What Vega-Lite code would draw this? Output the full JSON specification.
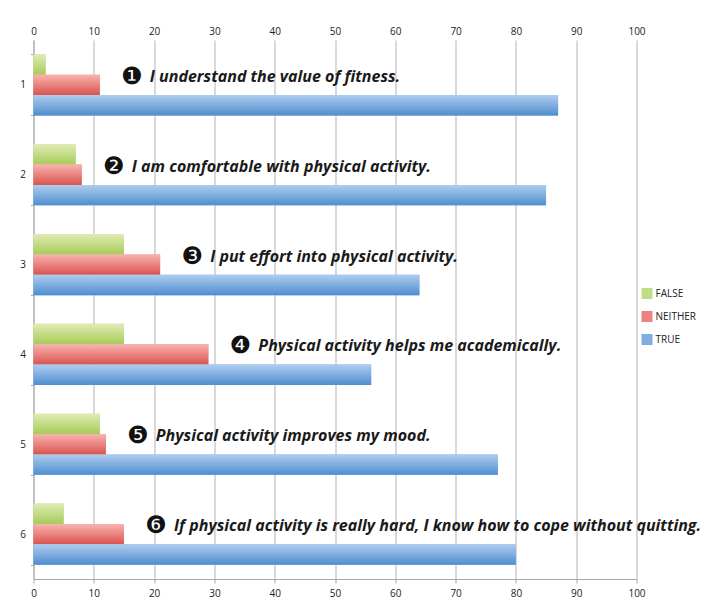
{
  "$schema": "https://vega.github.io/schema/vega-lite/v6.json",
  "width": 603,
  "height": 539,
  "autosize": "none",
  "padding": {"left": 33.5, "top": 40, "right": 74.5, "bottom": 25},
  "background": "white",
  "config": {
    "view": {"stroke": null},
    "font": "Open Sans",
    "axis": {"labelFontWeight": "normal"}
  },
  "data": {
    "values": [
      {"item": 1, "response": "FALSE", "percent": 2, "num": "❶", "statement": "I understand the value of fitness."},
      {"item": 1, "response": "NEITHER", "percent": 11, "num": "❶", "statement": "I understand the value of fitness."},
      {"item": 1, "response": "TRUE", "percent": 87, "num": "❶", "statement": "I understand the value of fitness."},
      {"item": 2, "response": "FALSE", "percent": 7, "num": "❷", "statement": "I am comfortable with physical activity."},
      {"item": 2, "response": "NEITHER", "percent": 8, "num": "❷", "statement": "I am comfortable with physical activity."},
      {"item": 2, "response": "TRUE", "percent": 85, "num": "❷", "statement": "I am comfortable with physical activity."},
      {"item": 3, "response": "FALSE", "percent": 15, "num": "❸", "statement": "I put effort into physical activity."},
      {"item": 3, "response": "NEITHER", "percent": 21, "num": "❸", "statement": "I put effort into physical activity."},
      {"item": 3, "response": "TRUE", "percent": 64, "num": "❸", "statement": "I put effort into physical activity."},
      {"item": 4, "response": "FALSE", "percent": 15, "num": "❹", "statement": "Physical activity helps me academically."},
      {"item": 4, "response": "NEITHER", "percent": 29, "num": "❹", "statement": "Physical activity helps me academically."},
      {"item": 4, "response": "TRUE", "percent": 56, "num": "❹", "statement": "Physical activity helps me academically."},
      {"item": 5, "response": "FALSE", "percent": 11, "num": "❺", "statement": "Physical activity improves my mood."},
      {"item": 5, "response": "NEITHER", "percent": 12, "num": "❺", "statement": "Physical activity improves my mood."},
      {"item": 5, "response": "TRUE", "percent": 77, "num": "❺", "statement": "Physical activity improves my mood."},
      {"item": 6, "response": "FALSE", "percent": 5, "num": "❻", "statement": "If physical activity is really hard, I know how to cope without quitting."},
      {"item": 6, "response": "NEITHER", "percent": 15, "num": "❻", "statement": "If physical activity is really hard, I know how to cope without quitting."},
      {"item": 6, "response": "TRUE", "percent": 80, "num": "❻", "statement": "If physical activity is really hard, I know how to cope without quitting."}
    ]
  },
  "encoding": {
    "y": {
      "field": "item",
      "type": "ordinal",
      "scale": {"paddingInner": 0.32, "paddingOuter": 0.16},
      "axis": {
        "title": null,
        "tickBand": "extent",
        "labelAngle": 0,
        "labelFontSize": 10,
        "labelFontWeight": "normal",
        "labelColor": "#222222",
        "labelPadding": 5,
        "tickSize": 3,
        "tickColor": "#a8a8a8",
        "domainColor": "#a8a8a8",
        "grid": false
      }
    },
    "x": {
      "field": "percent",
      "type": "quantitative",
      "scale": {"domain": [0, 100], "nice": false},
      "axis": null
    },
    "yOffset": {"field": "response", "type": "nominal", "sort": ["FALSE", "NEITHER", "TRUE"], "scale": {"domain": ["FALSE", "NEITHER", "TRUE"], "paddingInner": 0, "paddingOuter": 0}}
  },
  "layer": [
    {
      "mark": {"type": "bar", "orient": "horizontal"},
      "encoding": {
        "x": {
          "field": "percent",
          "type": "quantitative",
          "scale": {"domain": [0, 100], "nice": false},
          "axis": {
            "orient": "top",
            "title": null,
            "values": [0, 10, 20, 30, 40, 50, 60, 70, 80, 90, 100],
            "grid": true,
            "gridColor": "#b3b3b3",
            "gridOpacity": 1,
            "domain": false,
            "ticks": false,
            "tickSize": 0,
            "labelFontSize": 10,
            "labelFontWeight": "normal",
            "labelColor": "#222222",
            "labelPadding": 4,
            "labelFlush": false
          }
        },
        "color": {
          "field": "response",
          "type": "nominal",
          "sort": ["FALSE", "NEITHER", "TRUE"],
          "scale": {
            "domain": ["FALSE", "NEITHER", "TRUE"],
            "range": ["#c2dc85", "#ea8481", "#80acdf"]
          },
          "legend": {
            "title": null,
            "orient": "none",
            "legendX": 608,
            "legendY": 248,
            "padding": 0,
            "symbolType": "square",
            "symbolSize": 121,
            "symbolStrokeWidth": 0,
            "labelFontSize": 10,
            "labelColor": "#222222",
            "labelOffset": 3,
            "rowPadding": 12
          }
        }
      }
    },
    {
      "transform": [{"filter": "datum.response === 'FALSE'"}],
      "mark": {"type": "bar", "orient": "horizontal", "fill": {"gradient": "linear", "x1": 0, "y1": 0, "x2": 0, "y2": 1, "stops": [{"offset": 0, "color": "#e0ebb5"}, {"offset": 1, "color": "#a6cc57"}]}},
      "encoding": {
        "x": {
          "field": "percent",
          "type": "quantitative",
          "scale": {"domain": [0, 100], "nice": false},
          "axis": {
            "orient": "bottom",
            "title": null,
            "values": [0, 10, 20, 30, 40, 50, 60, 70, 80, 90, 100],
            "grid": false,
            "domain": true,
            "domainColor": "#a8a8a8",
            "ticks": true,
            "tickSize": 4,
            "tickColor": "#a8a8a8",
            "labelFontSize": 10,
            "labelFontWeight": "normal",
            "labelColor": "#222222",
            "labelPadding": 5,
            "labelFlush": false
          }
        }
      }
    },
    {
      "transform": [{"filter": "datum.response === 'NEITHER'"}],
      "mark": {"type": "bar", "orient": "horizontal", "fill": {"gradient": "linear", "x1": 0, "y1": 0, "x2": 0, "y2": 1, "stops": [{"offset": 0, "color": "#f9b3b0"}, {"offset": 1, "color": "#d9544f"}]}}
    },
    {
      "transform": [{"filter": "datum.response === 'TRUE'"}],
      "mark": {"type": "bar", "orient": "horizontal", "fill": {"gradient": "linear", "x1": 0, "y1": 0, "x2": 0, "y2": 1, "stops": [{"offset": 0, "color": "#afcdee"}, {"offset": 1, "color": "#4f8ecf"}]}}
    },
    {
      "transform": [{"filter": "datum.response === 'NEITHER'"}],
      "mark": {
        "type": "text",
        "align": "center",
        "baseline": "middle",
        "dx": 32,
        "dy": -8,
        "font": "DejaVu Sans",
        "fontSize": 24,
        "color": "#111111"
      },
      "encoding": {
        "text": {"field": "num"},
        "yOffset": null
      }
    },
    {
      "transform": [{"filter": "datum.response === 'NEITHER'"}],
      "mark": {
        "type": "text",
        "align": "left",
        "baseline": "alphabetic",
        "dx": 50,
        "dy": -3,
        "font": "Open Sans",
        "fontSize": 16,
        "fontStyle": "italic",
        "fontWeight": "bold",
        "color": "#1a1a1a"
      },
      "encoding": {
        "text": {"field": "statement"},
        "yOffset": null
      }
    }
  ]
}
